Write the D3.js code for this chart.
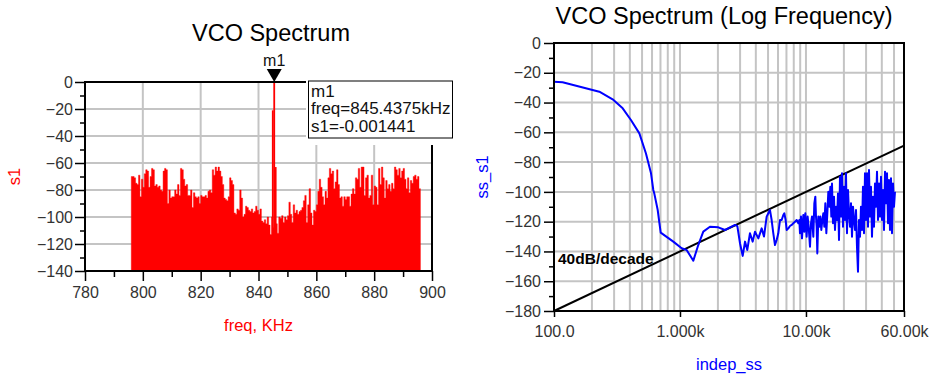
<!DOCTYPE html>
<html>
<head>
<meta charset="utf-8">
<script src="https://cdn.jsdelivr.net/npm/d3@7"></script>
<style>
  html, body { margin: 0; padding: 0; background: #fff; }
  svg { display: block; font-family: "Liberation Sans", Arial, sans-serif; }
</style>
</head>
<body>
<svg id="chart" width="933" height="380"></svg>
<script>
// ---------- VCO spectrum (linear frequency) ----------
const spectrumStartKHz = 796;
const spectrumStepKHz = 0.5;
const spectrumDb = [
  -70, -70, -71, -75, -76, -69, -85, -72, -78, -68,
  -65, -66, -78, -70, -64, -65, -77, -76, -78, -77,
  -80, -81, -66, -64, -65, -90, -80, -86, -85, -85,
  -80, -83, -76, -84, -64, -65, -72, -77, -76, -84,
  -84, -80, -93, -82, -85, -86, -85, -90, -84, -85,
  -85, -84, -86, -81, -80, -82, -65, -69, -63, -66,
  -63, -66, -70, -76, -86, -87, -88, -85, -71, -73,
  -76, -97, -98, -94, -95, -80, -86, -100, -98, -92,
  -93, -95, -96, -94, -97, -96, -92, -95, -98, -94,
  -103, -104, -102, -105, -100, -106, -113, -100, -108, -105,
  -105, -112, -100, -101, -99, -104, -100, -102, -99, -89,
  -98, -104, -91, -97, -95, -98, -96, -95, -93, -88,
  -84, -104, -91, -79, -97, -106, -95, -96, -91, -81,
  -72, -78, -85, -91, -81, -86, -71, -64, -68, -66,
  -79, -74, -65, -76, -86, -85, -92, -85, -87, -85,
  -85, -92, -83, -79, -83, -71, -72, -64, -78, -63,
  -63, -84, -71, -69, -86, -84, -69, -91, -77, -78,
  -91, -64, -76, -63, -71, -86, -73, -79, -76, -81,
  -75, -79, -63, -65, -69, -64, -71, -66, -64, -72,
  -79, -71, -82, -73, -75, -70, -69, -72, -70, -79
];
const skirtKHz = [844.9375, 845.9375];
const skirtDb = [-21, -63];
const markerName = "m1";
const markerKHz = 845.4375;
const markerDb = -0.001441;
const freqTicks = [780, 800, 820, 840, 860, 880, 900];
const freqMinorTicks = [790, 810, 830, 850, 870, 890];
const s1Ticks = [0, -20, -40, -60, -80, -100, -120, -140];
const s1MinorTicks = [-10, -30, -50, -70, -90, -110, -130];

// ---------- VCO spectrum (log frequency) ----------
const ssFreqHz = [
  100, 117, 229, 292, 351, 408, 476, 537, 589, 614, 625, 665, 703, 885, 1031, 1129,
  1276, 1397, 1531, 1730, 2015, 2276, 2734, 2853, 2995, 3146, 3283, 3422, 3594, 3776,
  3939, 4188, 4450, 4643, 4875, 5026, 5181, 5341, 5506, 5677, 5852, 6033, 6221, 6413,
  6611, 6734, 6899, 7026, 7244, 7467, 7700, 7937, 8183, 8437, 8697, 8857, 8965, 9131,
  9299, 9528, 9703, 9882, 10125, 10313, 10503, 10763, 10961, 11164, 11440, 11651,
  11865, 12011, 12158, 12307, 12536, 12764, 13000, 13241, 13485, 13733, 13987, 14245,
  14509, 14776, 15048, 15327, 15610, 15897, 16092, 16391, 16693, 17000, 17313, 17632,
  17958, 18289, 18621, 18967, 19317, 19676, 20037, 20405, 20784, 21167, 21561, 21957,
  22361, 22775, 23195, 23621, 24060, 24503, 24958, 25410, 25877, 26358, 26843, 27338,
  27842, 28353, 28880, 29413, 29954, 30511, 31072, 31644, 32226, 32818, 33429, 34045,
  34671, 35317, 35965, 36634, 37308, 37993, 38700, 39411, 40135, 40882, 41634, 42408,
  43187, 43980, 44798, 45604, 46444, 47308, 48177, 49072, 49968, 50884
];
const ssDb = [
  -26, -26.3, -32.7, -37.8, -43.9, -51.7, -60.7, -74.2, -87.5, -98.7, -101, -112, -127.4, -133.4, -137.9, -139,
  -146.2, -135.7, -126.7, -123.4, -123.8, -125.6, -122.2, -123, -134.5, -143, -133.4, -139, -127.8, -133.4,
  -126.7, -131.2, -124.5, -130, -116.6, -114.4, -112.2, -118.9, -127.8, -135.7, -132.3, -127.8, -118.9, -118.9,
  -115.5, -114.4, -118.9, -125.6, -124.5, -122.9, -122.2, -121.1, -120, -118.9, -121.1, -118.9, -127.8, -116.6,
  -131.2, -115.5, -126.7, -114.4, -130.1, -116.6, -123.4, -136.8, -121.1, -116.6, -130.1, -107.7,
  -103.2, -116.6, -123.4, -141.3, -116.6, -123.4, -116.6, -125.6, -118.9, -114.4, -123.4, -107.7,
  -127.8, -114.4, -99.9, -109.9, -96.5, -116.6, -94.3, -121.1, -103.2, -125.6, -109.9, -118.9,
  -101, -132.3, -89.8, -116.6, -87.5, -123.4, -96.5, -118.9, -87.5, -127.8, -98.7, -114.4,
  -123.4, -107.7, -130.1, -109.9, -118.9, -125.6, -112.2, -136.8, -153.6, -118.9, -130.1, -109.9,
  -125.6, -96.5, -127.8, -87.5, -118.9, -87.5, -123.4, -85.3, -116.6, -96.5, -130.1, -103.2,
  -123.4, -94.3, -109.9, -86.4, -118.9, -94.3, -116.6, -89.8, -118.9, -98.7, -125.6, -86.4,
  -107.7, -87.5, -121.1, -92, -125.6, -90.9, -127.8, -94.3, -109.9, -99.9
];
const ssXTicks = [100, 1000, 10000, 60000];
const ssXTickLabels = ["100.0", "1.000k", "10.00k", "60.00k"];
const ssGridHz = [200, 300, 400, 500, 600, 700, 800, 900, 1000,
  2000, 3000, 4000, 5000, 6000, 7000, 8000, 9000, 10000,
  20000, 30000, 40000, 50000];
const ssTicks = [0, -20, -40, -60, -80, -100, -120, -140, -160, -180];
const ssMinorTicks = [-10, -30, -50, -70, -90, -110, -130, -150, -170];
const slopeStartHz = 100, slopeStartDb = -180, slopeDbPerDecade = 40, slopeEndHz = 60000;
const slopeLabel = "40dB/decade";

// ---------- drawing ----------
const svg = d3.select("#chart");
const GRID = "#c4c4c4";
const RED = "#ff0000";
const BLUE = "#0000ff";

function styleAxis(g) {
  g.select(".domain").remove();
  g.selectAll(".tick line").attr("stroke", "#000").attr("stroke-width", 1.5);
  g.selectAll(".tick text").attr("fill", "#333").style("font-size", "16px")
    .style("font-family", '"Liberation Sans", Arial, sans-serif');
}

// ===== Left panel =====
{
  const x = d3.scaleLinear().domain([780, 900]).range([85, 432]);
  const y = d3.scaleLinear().domain([-140, 0]).range([271, 82]);
  const g = svg.append("g");

  // grid
  g.append("g").selectAll("line").data(freqTicks.slice(1, -1)).join("line")
    .attr("x1", d => x(d)).attr("x2", d => x(d)).attr("y1", y(0)).attr("y2", y(-140))
    .attr("stroke", GRID).attr("stroke-width", 2);
  g.append("g").selectAll("line").data(s1Ticks.slice(1, -1)).join("line")
    .attr("x1", x(780)).attr("x2", x(900)).attr("y1", d => y(d)).attr("y2", d => y(d))
    .attr("stroke", GRID).attr("stroke-width", 2);

  // spectrum bins as one stepped filled area (no seams between bins)
  const bins = spectrumDb.map((v, i) => ({ f: spectrumStartKHz + i * spectrumStepKHz, v }));
  bins.push({ f: spectrumStartKHz + spectrumDb.length * spectrumStepKHz, v: spectrumDb[spectrumDb.length - 1] });
  g.append("path").datum(bins)
    .attr("d", d3.area().curve(d3.curveStepAfter)
      .x(d => x(d.f)).y0(y(-140)).y1(d => y(d.v)))
    .attr("fill", RED).attr("stroke", RED).attr("stroke-width", 0.4);
  g.append("g").selectAll("rect").data(skirtKHz.map((f, i) => ({ f, v: skirtDb[i] }))).join("rect")
    .attr("x", d => x(d.f) - 0.9).attr("width", 1.8)
    .attr("y", d => y(d.v)).attr("height", d => y(-140) - y(d.v))
    .attr("fill", RED);
  g.append("rect")
    .attr("x", x(markerKHz) - 0.9).attr("width", 1.8)
    .attr("y", y(markerDb)).attr("height", y(-140) - y(markerDb))
    .attr("fill", RED);

  // frame
  g.append("rect").attr("x", x(780)).attr("y", y(0))
    .attr("width", x(900) - x(780)).attr("height", y(-140) - y(0))
    .attr("fill", "none").attr("stroke", "#000").attr("stroke-width", 2);

  // axes
  g.append("g").attr("transform", `translate(${x(780)},0)`)
    .call(d3.axisLeft(y).tickValues(s1Ticks).tickSize(10).tickPadding(2).tickFormat(d3.format("d")))
    .call(styleAxis);
  g.append("g").attr("transform", `translate(${x(780)},0)`)
    .call(d3.axisLeft(y).tickValues(s1MinorTicks).tickSize(5).tickFormat(""))
    .call(styleAxis);
  g.append("g").attr("transform", `translate(0,${y(-140)})`)
    .call(d3.axisBottom(x).tickValues(freqTicks).tickSize(10).tickPadding(6).tickFormat(d3.format("d")))
    .call(styleAxis);
  g.append("g").attr("transform", `translate(0,${y(-140)})`)
    .call(d3.axisBottom(x).tickValues(freqMinorTicks).tickSize(6).tickFormat(""))
    .call(styleAxis);

  // marker readout
  g.append("rect").attr("x", 306).attr("y", 79).attr("width", 150).attr("height", 66).attr("fill", "#fff");
  g.append("rect").attr("x", 308.5).attr("y", 81).attr("width", 144).attr("height", 57)
    .attr("fill", "#fff").attr("stroke", "#000").attr("stroke-width", 1);
  const readout = [markerName, `freq=${markerKHz}kHz`, `s1=${markerDb}`];
  g.append("g").selectAll("text").data(readout).join("text")
    .attr("x", 311).attr("y", (d, i) => 96.5 + i * 17.5)
    .style("font-size", "17px").attr("fill", "#111").text(d => d);

  const mx = x(markerKHz);
  g.append("path").attr("d", `M${mx - 7.5},69 L${mx + 7.5},69 L${mx},82 Z`).attr("fill", "#000");
  g.append("text").attr("x", mx).attr("y", 66).attr("text-anchor", "middle")
    .style("font-size", "16px").attr("fill", "#111").text(markerName);

  // titles
  g.append("text").attr("x", 271).attr("y", 40.5).attr("text-anchor", "middle")
    .style("font-size", "23.5px").attr("fill", "#000").text("VCO Spectrum");
  g.append("text").attr("x", (x(780) + x(900)) / 2).attr("y", 331).attr("text-anchor", "middle")
    .style("font-size", "16.5px").attr("fill", RED).text("freq, KHz");
  g.append("text").attr("transform", `translate(20,${(y(0) + y(-140)) / 2}) rotate(-90)`)
    .attr("text-anchor", "middle")
    .style("font-size", "16.5px").attr("fill", RED).text("s1");
}

// ===== Right panel =====
{
  const x = d3.scaleLog().domain([100, 60000]).range([554, 904]);
  const y = d3.scaleLinear().domain([-180, 0]).range([311, 43]);
  const g = svg.append("g");

  g.append("g").selectAll("line").data(ssGridHz).join("line")
    .attr("x1", d => x(d)).attr("x2", d => x(d)).attr("y1", y(0)).attr("y2", y(-180))
    .attr("stroke", GRID).attr("stroke-width", 2);
  g.append("g").selectAll("line").data(ssTicks.slice(1, -1)).join("line")
    .attr("x1", x(100)).attr("x2", x(60000)).attr("y1", d => y(d)).attr("y2", d => y(d))
    .attr("stroke", GRID).attr("stroke-width", 2);

  // 40 dB/decade reference
  const slopeEndDb = slopeStartDb + slopeDbPerDecade * Math.log10(slopeEndHz / slopeStartHz);
  g.append("line")
    .attr("x1", x(slopeStartHz)).attr("y1", y(slopeStartDb))
    .attr("x2", x(slopeEndHz)).attr("y2", y(slopeEndDb))
    .attr("stroke", "#000").attr("stroke-width", 2);

  const pts = ssFreqHz.map((f, i) => [f, ssDb[i]]);
  g.append("path").datum(pts)
    .attr("d", d3.line().x(d => x(d[0])).y(d => y(d[1])))
    .attr("fill", "none").attr("stroke", BLUE).attr("stroke-width", 2)
    .attr("stroke-linejoin", "round");

  g.append("rect").attr("x", x(100)).attr("y", y(0))
    .attr("width", x(60000) - x(100)).attr("height", y(-180) - y(0))
    .attr("fill", "none").attr("stroke", "#000").attr("stroke-width", 2);

  g.append("g").attr("transform", `translate(${x(100)},0)`)
    .call(d3.axisLeft(y).tickValues(ssTicks).tickSize(10).tickPadding(3).tickFormat(d3.format("d")))
    .call(styleAxis);
  g.append("g").attr("transform", `translate(${x(100)},0)`)
    .call(d3.axisLeft(y).tickValues(ssMinorTicks).tickSize(5).tickFormat(""))
    .call(styleAxis);
  g.append("g").attr("transform", `translate(0,${y(-180)})`)
    .call(d3.axisBottom(x).tickValues(ssXTicks).tickSize(6).tickPadding(9)
      .tickFormat((d, i) => ssXTickLabels[i]))
    .call(styleAxis);

  g.append("text").attr("x", x(100) + 4).attr("y", 264)
    .style("font-size", "15.5px").style("font-weight", "bold").attr("fill", "#000").text(slopeLabel);

  g.append("text").attr("x", 724).attr("y", 24).attr("text-anchor", "middle")
    .style("font-size", "23.5px").attr("fill", "#000").text("VCO Spectrum (Log Frequency)");
  g.append("text").attr("x", (x(100) + x(60000)) / 2).attr("y", 370).attr("text-anchor", "middle")
    .style("font-size", "16.5px").attr("fill", BLUE).text("indep_ss");
  g.append("text").attr("transform", `translate(488,${(y(0) + y(-180)) / 2}) rotate(-90)`)
    .attr("text-anchor", "middle")
    .style("font-size", "16.5px").attr("fill", BLUE).text("ss_s1");
}
</script>
</body>
</html>
